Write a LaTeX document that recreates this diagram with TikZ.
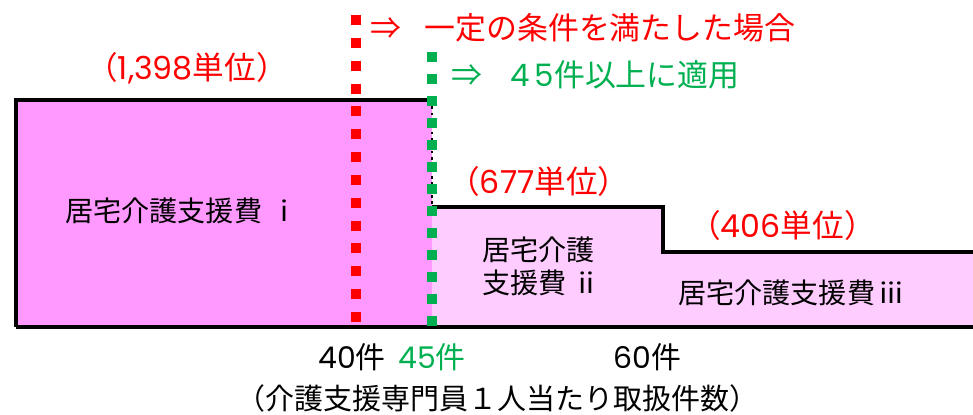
\documentclass[tikz,border=0pt]{standalone}
\usepackage{fontspec}
\setmainfont{Noto Sans CJK JP}
\newfontfamily\digitfont{Poppins}
\newcommand{\dg}[1]{{\digitfont #1}}
\definecolor{redline}{HTML}{FF0000}
\definecolor{greenline}{HTML}{00B050}
\definecolor{pinkdark}{HTML}{FF99FF}
\definecolor{pinklight}{HTML}{FFCCFF}

\begin{document}
\begin{tikzpicture}[x=0.02cm, y=-0.02cm,
        label/.style={inner sep=0pt, anchor=west, font=\fontsize{16pt}{19pt}\selectfont},
        unitlabel/.style={label, text=redline, font=\fontsize{18pt}{21pt}\selectfont},
        countlabel/.style={label, font=\fontsize{17pt}{20pt}\selectfont},
        notelabel/.style={label, font=\fontsize{17.6pt}{21pt}\selectfont}]
        \useasboundingbox (0,0) rectangle (973,414);
        % fills
        \fill[pinkdark] (16,100) rectangle (432,327);
        \fill[pinklight] (432,207) -- (663,207) -- (663,252) -- (973,252) -- (973,327) -- (432,327) -- cycle;
        % outline
        \draw[line width=2.8pt] (16,327) -- (16,100) -- (434,100);
        \draw[line width=2.8pt] (432,207) -- (663,207) -- (663,252) -- (973,252);
        \draw[line width=2.8pt] (16,327) -- (973,327);
        \draw[line width=1.6pt, dotted] (432,100) -- (432,207);
        % threshold lines
        \draw[redline, line width=5.7pt, dash pattern=on 5.7pt off 7.3pt] (356,15) -- (356,327);
        \draw[greenline, line width=5.7pt, dash pattern=on 5.7pt off 6.8pt] (432,52) -- (432,335);
        % texts
        \node[notelabel, text=redline] (cond) at (370,28) {⇒\hspace{0.75em}一定の条件を満たした場合};
        \node[notelabel, text=greenline] (apply) at (451,75) {⇒\hspace{0.9em}\dg{4\,5}件以上に適用};
        \node[unitlabel] (u1) at (86,68) {（\dg{1,398}単位）};
        \node[unitlabel] (u2) at (448,181) {（\dg{677}単位）};
        \node[unitlabel] (u3) at (689,225) {（\dg{406}単位）};
        \node[label] (fee1) at (65,211) {居宅介護支援費\hspace{0.3em}ⅰ};
        \node[label, align=left, anchor=north west] (fee2) at (482,236) {居宅介護\\支援費\hspace{0.2em}ⅱ};
        \node[label] (fee3) at (678,293) {居宅介護支援費\hspace{0.1em}ⅲ};
        \node[countlabel] (n40) at (318,357) {\dg{40}件};
        \node[countlabel, text=greenline] (n45) at (398,357) {\dg{45}件};
        \node[countlabel] (n60) at (613,357) {\dg{60}件};
        \node[label, font=\fontsize{16.5pt}{19pt}\selectfont] (axis) at (236,398) {（介護支援専門員１人当たり取扱件数）};
\end{tikzpicture}
\end{document}
